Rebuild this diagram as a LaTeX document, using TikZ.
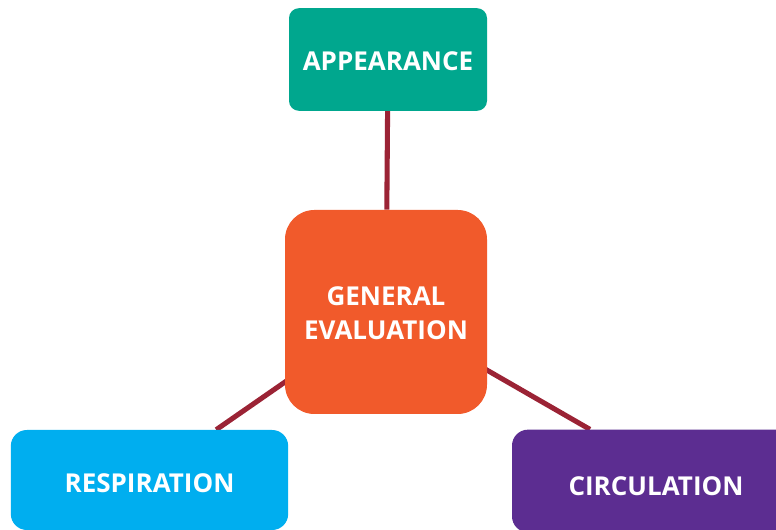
\documentclass[tikz,border=0pt]{standalone}
\usepackage{fontspec}
\setmainfont{Open Sans}
\usetikzlibrary{backgrounds}
\definecolor{appgreen}{HTML}{00A78E}
\definecolor{genorange}{HTML}{F15A2B}
\definecolor{respblue}{HTML}{00AEEF}
\definecolor{circpurple}{HTML}{5C2D91}
\definecolor{linkred}{HTML}{9B2335}
% lower a label without changing the size of its box
\newcommand{\evaldown}[2]{\raisebox{-#1}[\height][\depth]{#2}}
\begin{document}
\begin{tikzpicture}[x=0.75pt,y=-0.75pt]
        \tikzset{
        eval box/.style={rectangle,draw=none,text=white,inner sep=0,align=center,
            font=\fontsize{19.5}{25}\selectfont\bfseries},
        eval link/.style={draw=linkred,line width=3.8pt}
        }
        \useasboundingbox (0,0) rectangle (776,530);
        \node[eval box,fill=appgreen,rounded corners=7.5pt,minimum width=148.5pt,minimum height=77pt] (app) at (388,59.5) {\evaldown{1.5pt}{APPEARANCE}};
        \node[eval box,fill=genorange,rounded corners=22pt,minimum width=151.5pt,minimum height=153pt] (gen) at (386,312) {\evaldown{1pt}{GENERAL}\\\evaldown{1pt}{EVALUATION}};
        \node[eval box,fill=respblue,rounded corners=12pt,minimum width=208pt,minimum height=75pt] (resp) at (149.5,480) {\evaldown{2.2pt}{RESPIRATION}};
        \node[eval box,fill=circpurple,rounded corners=12pt,minimum width=216pt,minimum height=77pt] (circ) at (656,481) {\evaldown{3.7pt}{CIRCULATION}};

        \begin{scope}[on background layer]
        \path[-,eval link]
        (app) edge (gen)
        (gen.center) edge (resp.37)
        (gen.center) edge (circ.142)
        ;
        \end{scope}
    \end{tikzpicture}
\end{document}
